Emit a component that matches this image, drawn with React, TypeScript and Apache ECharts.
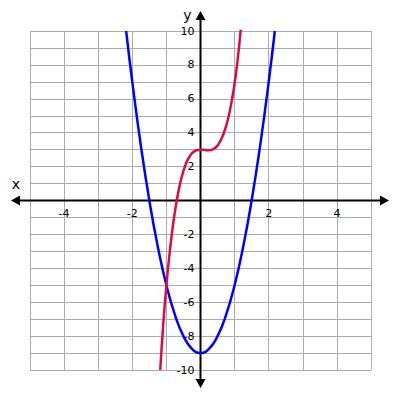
import React, { useEffect, useRef } from "react";
import * as echarts from "echarts";

const xRange = [-5, 5];
const yRange = [-10, 10];
const labelledX = [-4, -2, 2, 4];
const labelledY = [-10, -8, -6, -4, -2, 2, 4, 6, 8, 10];

const blueX = [-2.18, -2, -1.75, -1.5, -1.25, -1, -0.75, -0.5, -0.25, 0, 0.25, 0.5, 0.75, 1, 1.25, 1.5, 1.75, 2, 2.18];
const blueY = [10.0, 7, 3.25, 0, -2.75, -5, -6.75, -8, -8.75, -9, -8.75, -8, -6.75, -5, -2.75, 0, 3.25, 7, 10.0];

const redX = [-1.18, -1.1, -1.0, -0.9, -0.8, -0.7, -0.6, -0.5, -0.4, -0.3, -0.2, -0.1, 0, 0.1, 0.2, 0.3, 0.4, 0.5, 0.6, 0.7, 0.8, 0.9, 1.0, 1.1, 1.18];
const redY = [-10, -7.5, -5, -3.0, -1.35, -0.04, 0.98, 1.75, 2.3, 2.66, 2.87, 2.97, 3.0, 2.99, 2.97, 2.98, 3.06, 3.25, 3.58, 4.08, 4.75, 5.7, 6.9, 8.5, 10.1];

const GRID = { left: 30, top: 31, width: 341, height: 339 };
const FONT = "DejaVu Sans";

export default function App() {
  const ref = useRef<HTMLDivElement>(null);
  useEffect(() => {
    if (!ref.current) return;
    const chart = echarts.init(ref.current, null, { renderer: "svg" });
    const pair = (xs: number[], ys: number[]) => xs.map((x, i) => [x, ys[i]]);
    const hiddenLine = { show: false, onZero: false };
    const option: any = {
      animation: false,
      backgroundColor: "#fff",
      grid: { ...GRID, containLabel: false },
      xAxis: {
        type: "value",
        position: "bottom",
        min: xRange[0],
        max: xRange[1],
        interval: 1,
        axisLine: hiddenLine,
        axisTick: { show: false },
        splitLine: { show: true, lineStyle: { color: "#ababab", width: 1 } },
        axisLabel: {
          color: "#000",
          fontFamily: FONT,
          fontSize: 11,
          margin: 7,
          showMinLabel: true,
          showMaxLabel: true,
          formatter: (v: number) => (labelledX.includes(v) ? String(v) : ""),
        },
      },
      yAxis: {
        type: "value",
        position: "left",
        min: yRange[0],
        max: yRange[1],
        interval: 1,
        axisLine: hiddenLine,
        axisTick: { show: false },
        splitLine: { show: true, lineStyle: { color: "#ababab", width: 1 } },
        axisLabel: {
          color: "#000",
          fontFamily: FONT,
          fontSize: 11,
          margin: 6,
          showMinLabel: true,
          showMaxLabel: true,
          formatter: (v: number) => (labelledY.includes(v) ? String(v) : ""),
        },
      },
      series: [
        {
          type: "line",
          data: pair(blueX, blueY),
          smooth: true,
          showSymbol: false,
          clip: true,
          z: 5,
          lineStyle: { color: "#0000ff", width: 2.5 },
        },
        {
          type: "line",
          data: pair(redX, redY),
          smooth: true,
          showSymbol: false,
          clip: true,
          z: 5,
          lineStyle: { color: "#dc0a48", width: 2.5 },
        },
      ],
    };
    chart.setOption(option);
    const [ox, oy] = chart.convertToPixel({ gridIndex: 0 }, [0, 0]) as number[];
    const l = GRID.left - 19;
    const r = GRID.left + GRID.width + 18;
    const t = GRID.top - 20;
    const b = GRID.top + GRID.height + 18;
    const ah = 9;
    const aw = 5;
    const black = { fill: "#000" };
    chart.setOption({
      xAxis: { offset: -(GRID.top + GRID.height - oy) },
      yAxis: { offset: -(ox - GRID.left) },
      graphic: [
        { type: "line", z: 3, shape: { x1: l + 4, y1: oy, x2: r - 4, y2: oy }, style: { stroke: "#000", lineWidth: 2 } },
        { type: "line", z: 3, shape: { x1: ox, y1: t + 4, x2: ox, y2: b - 4 }, style: { stroke: "#000", lineWidth: 2 } },
        { type: "polygon", z: 3, shape: { points: [[l, oy], [l + ah, oy - aw], [l + ah, oy + aw]] }, style: black },
        { type: "polygon", z: 3, shape: { points: [[r, oy], [r - ah, oy - aw], [r - ah, oy + aw]] }, style: black },
        { type: "polygon", z: 3, shape: { points: [[ox, t], [ox - aw, t + ah], [ox + aw, t + ah]] }, style: black },
        { type: "polygon", z: 3, shape: { points: [[ox, b], [ox - aw, b - ah], [ox + aw, b - ah]] }, style: black },
        { type: "text", z: 3, x: 16, y: oy - 17, style: { text: "x", fill: "#000", font: `14px ${FONT}`, align: "center", verticalAlign: "middle" } },
        { type: "text", z: 3, x: ox - 13, y: 15, style: { text: "y", fill: "#000", font: `14px ${FONT}`, align: "center", verticalAlign: "middle" } },
      ],
    });
    return () => chart.dispose();
  }, []);
  return <div ref={ref} style={{ position: "fixed", left: 0, top: 0, width: 400, height: 400 }} />;
}
